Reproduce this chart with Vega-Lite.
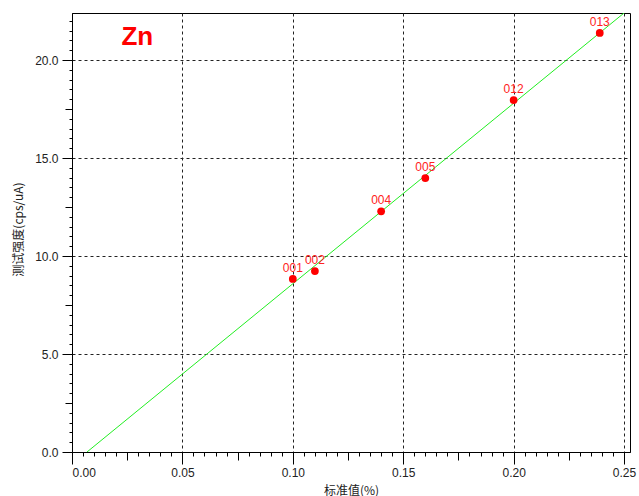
{
  "$schema": "https://vega.github.io/schema/vega-lite/v6.json",
  "width": 558,
  "height": 439,
  "autosize": {"type": "none"},
  "padding": {"left": 72, "top": 13, "right": 9, "bottom": 44},
  "background": "white",
  "config": {
    "view": {"stroke": "#000", "strokeWidth": 1},
    "font": "Liberation Sans"
  },
  "datasets": {
    "pts": [
      {"std": 0.100, "intensity": 8.83, "id": "001"},
      {"std": 0.110, "intensity": 9.23, "id": "002"},
      {"std": 0.140, "intensity": 12.28, "id": "004"},
      {"std": 0.160, "intensity": 13.98, "id": "005"},
      {"std": 0.200, "intensity": 17.96, "id": "012"},
      {"std": 0.239, "intensity": 21.38, "id": "013"}
    ],
    "fit": [
      {"std": 0.0068, "intensity": 0.0},
      {"std": 0.2500, "intensity": 22.40}
    ],
    "note": [
      {"std": 0.0296, "intensity": 20.75, "label": "Zn"}
    ]
  },
  "encoding": {
    "x": {
      "field": "std", "type": "quantitative",
      "scale": {"domain": [0, 0.2527], "nice": false, "zero": false},
      "axis": {
        "title": "标准值(%)",
        "titleFont": "Noto Sans CJK SC",
        "titleFontSize": 12,
        "titleFontWeight": "normal",
        "titleColor": "#222",
        "titleY": 38,
        "titleBaseline": "middle",
        "values": [0,0.005,0.01,0.015,0.02,0.025,0.03,0.035,0.04,0.045,0.05,0.055,0.06,0.065,0.07,0.075,0.08,0.085,0.09,0.095,0.1,0.105,0.11,0.115,0.12,0.125,0.13,0.135,0.14,0.145,0.15,0.155,0.16,0.165,0.17,0.175,0.18,0.185,0.19,0.195,0.2,0.205,0.21,0.215,0.22,0.225,0.23,0.235,0.24,0.245,0.25],
        "labelExpr": "abs(round(datum.value*200)) % 10 == 0 ? format(datum.value, '.2f') : ''",
        "labelOverlap": false,
        "labelBound": false,
        "labelFontSize": 12,
        "labelColor": "#222",
        "labelPadding": 3,
        "domainColor": "#000",
        "tickColor": "#000",
        "tickSize": {"condition": [{"test": "abs(round(datum.value*200)) % 10 == 0", "value": 12}, {"test": "abs(round(datum.value*200)) % 5 == 0", "value": 8}], "value": 4},
        "grid": true,
        "gridColor": "#222",
        "gridDash": [3, 3],
        "gridOpacity": {"condition": {"test": "abs(round(datum.value*200)) % 10 == 0", "value": 1}, "value": 0}
      }
    },
    "y": {
      "field": "intensity", "type": "quantitative",
      "scale": {"domain": [0, 22.4], "nice": false, "zero": false},
      "axis": {
        "title": "测试强度(cps/uA)",
        "titleFont": "Noto Sans CJK SC",
        "titleFontSize": 12,
        "titleFontWeight": "normal",
        "titleColor": "#222",
        "titleX": -54,
        "titleY": 216,
        "titleBaseline": "middle",
        "titleAlign": "center",
        "values": [0,0.5,1,1.5,2,2.5,3,3.5,4,4.5,5,5.5,6,6.5,7,7.5,8,8.5,9,9.5,10,10.5,11,11.5,12,12.5,13,13.5,14,14.5,15,15.5,16,16.5,17,17.5,18,18.5,19,19.5,20,20.5,21,21.5,22],
        "labelExpr": "round(datum.value*2) % 10 == 0 ? format(datum.value, '.1f') : ''",
        "labelOverlap": false,
        "labelBound": false,
        "labelFontSize": 12,
        "labelColor": "#222",
        "labelPadding": 4,
        "domainColor": "#000",
        "tickColor": "#000",
        "tickSize": {"condition": [{"test": "round(datum.value*2) % 10 == 0", "value": 10}, {"test": "round(datum.value*2) % 5 == 0", "value": 7}], "value": 3},
        "grid": true,
        "gridColor": "#222",
        "gridDash": [3, 3],
        "gridOpacity": {"condition": {"test": "round(datum.value*2) % 10 == 0", "value": 1}, "value": 0}
      }
    }
  },
  "layer": [
    {
      "data": {"name": "fit"},
      "mark": {"type": "line", "color": "#22ee22", "strokeWidth": 1, "clip": true},
      "encoding": {}
    },
    {
      "data": {"name": "pts"},
      "mark": {"type": "circle", "color": "#ff0000", "size": 60, "opacity": 1},
      "encoding": {}
    },
    {
      "data": {"name": "pts"},
      "mark": {"type": "text", "color": "#ff2222", "fontSize": 12, "dy": -11, "align": "center", "baseline": "middle"},
      "encoding": {"text": {"field": "id"}}
    },
    {
      "data": {"name": "note"},
      "mark": {"type": "text", "color": "#ff0000", "fontSize": 26, "fontWeight": "bold", "align": "center", "baseline": "alphabetic"},
      "encoding": {"text": {"field": "label"}}
    }
  ]
}
